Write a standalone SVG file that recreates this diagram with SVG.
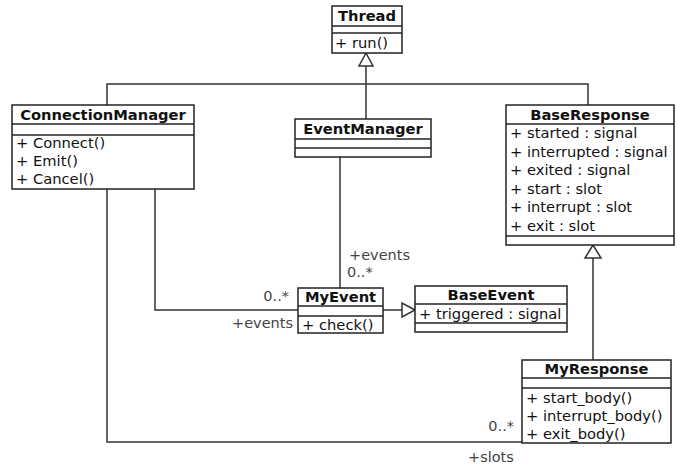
<svg xmlns="http://www.w3.org/2000/svg" width="678" height="466" viewBox="0 0 678 466">
<style>
.box{fill:#fff;stroke:#222;stroke-width:1.5}
.sep{stroke:#222;stroke-width:1.5}
.edge{fill:none;stroke:#333;stroke-width:1.5}
.tri{fill:#fff;stroke:#333;stroke-width:1.5}
text{font-family:"DejaVu Sans",Verdana,sans-serif;font-size:14.7px;fill:#111}
.t{font-weight:bold;text-anchor:middle}
.lbl{fill:#444;font-size:14.5px}
.e{text-anchor:end}
</style>
<rect width="678" height="466" fill="#fff"/>
<g id="connectors">
<path class="edge" d="M366,66 V119"/>
<path class="edge" d="M107,105 V84 H588 V105"/>
<polygon class="tri" points="366,53 359,66 373,66"/>
<path class="edge" d="M155,189 V310 H298"/>
<path class="edge" d="M107,189 V442 H522"/>
<path class="edge" d="M340,157 V288"/>
<path class="edge" d="M383,310 H402"/>
<polygon class="tri" points="415,310 402,303 402,317"/>
<path class="edge" d="M593,360 V258"/>
<polygon class="tri" points="593,245 585,258 601,258"/>
<text class="lbl" x="349" y="260">+events</text>
<text class="lbl" x="347" y="277">0..*</text>
<text class="lbl e" x="289" y="301">0..*</text>
<text class="lbl e" x="293" y="328">+events</text>
<text class="lbl e" x="514" y="431">0..*</text>
<text class="lbl" x="468" y="462">+slots</text>
</g>
<g id="Thread">
<rect class="box" x="332" y="6" width="70" height="47"/>
<line class="sep" x1="332" y1="26" x2="402" y2="26"/>
<line class="sep" x1="332" y1="33" x2="402" y2="33"/>
<text class="t" x="367" y="21">Thread</text>
<text x="335" y="48">+ run()</text>
</g>
<g id="ConnectionManager">
<rect class="box" x="12" y="105" width="182" height="84"/>
<line class="sep" x1="12" y1="124" x2="194" y2="124"/>
<line class="sep" x1="12" y1="135" x2="194" y2="135"/>
<text class="t" x="103" y="120">ConnectionManager</text>
<text x="16" y="148">+ Connect()</text>
<text x="16" y="166">+ Emit()</text>
<text x="16" y="184">+ Cancel()</text>
</g>
<g id="EventManager">
<rect class="box" x="295" y="119" width="136" height="38"/>
<line class="sep" x1="295" y1="139" x2="431" y2="139"/>
<line class="sep" x1="295" y1="148" x2="431" y2="148"/>
<text class="t" x="363" y="134">EventManager</text>
</g>
<g id="BaseResponse">
<rect class="box" x="506" y="105" width="168" height="140"/>
<line class="sep" x1="506" y1="124" x2="674" y2="124"/>
<line class="sep" x1="506" y1="236" x2="674" y2="236"/>
<text class="t" x="590" y="120">BaseResponse</text>
<text x="510" y="138">+ started : signal</text>
<text x="510" y="156.5">+ interrupted : signal</text>
<text x="510" y="175">+ exited : signal</text>
<text x="510" y="193.5">+ start : slot</text>
<text x="510" y="212">+ interrupt : slot</text>
<text x="510" y="230.5">+ exit : slot</text>
</g>
<g id="MyEvent">
<rect class="box" x="298" y="288" width="85" height="45"/>
<line class="sep" x1="298" y1="306" x2="383" y2="306"/>
<line class="sep" x1="298" y1="316" x2="383" y2="316"/>
<text class="t" x="340.5" y="302">MyEvent</text>
<text x="302" y="330">+ check()</text>
</g>
<g id="BaseEvent">
<rect class="box" x="415" y="286" width="152" height="46"/>
<line class="sep" x1="415" y1="304" x2="567" y2="304"/>
<line class="sep" x1="415" y1="323" x2="567" y2="323"/>
<text class="t" x="491" y="300">BaseEvent</text>
<text x="419" y="319">+ triggered : signal</text>
</g>
<g id="MyResponse">
<rect class="box" x="522" y="360" width="149" height="83"/>
<line class="sep" x1="522" y1="378" x2="671" y2="378"/>
<line class="sep" x1="522" y1="388" x2="671" y2="388"/>
<text class="t" x="596.5" y="374">MyResponse</text>
<text x="526" y="403">+ start_body()</text>
<text x="526" y="421">+ interrupt_body()</text>
<text x="526" y="439">+ exit_body()</text>
</g>
</svg>
